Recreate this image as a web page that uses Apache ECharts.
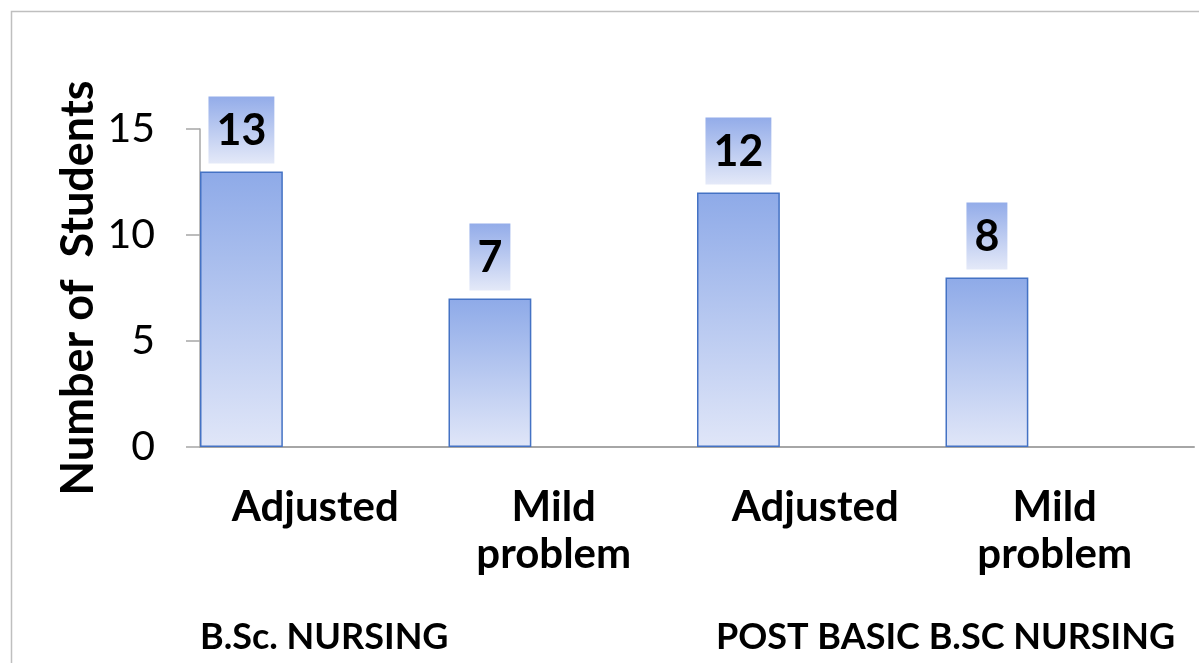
<!DOCTYPE html>
<html>
<head>
<meta charset="utf-8">
<script src="https://cdn.jsdelivr.net/npm/echarts@6/dist/echarts.min.js"></script>
<style>
html,body{margin:0;padding:0;background:#fff;}
#chart{width:1199px;height:663px;}
</style>
</head>
<body>
<div id="chart"></div>
<script>
var categories = ['Adjusted', 'Mild\nproblem', 'Adjusted', 'Mild\nproblem'];
var groups = ['B.Sc. NURSING', 'POST BASIC B.SC NURSING'];
var students = [13, 7, 12, 8];
var emptySeries = [null, null, null, null];
var yTicks = { min: 0, max: 15, interval: 5 };
var yTitle = 'Number of  Students';

var chart = echarts.init(document.getElementById('chart'));
var FONT = 'Lato';

function grad(top, bottom) {
  return new echarts.graphic.LinearGradient(0, 0, 0, 1, [
    { offset: 0, color: top },
    { offset: 1, color: bottom }
  ]);
}

var labelShift = [18, 38, 12, 30];

var option = {
  animation: false,
  backgroundColor: '#fff',
  graphic: [{
    type: 'rect',
    shape: { x: 11.5, y: 11.5, width: 1400, height: 900 },
    style: { fill: 'none', stroke: '#bfbfbf', lineWidth: 1.5 },
    silent: true
  }],
  grid: { left: 200, right: 5, top: 129, bottom: 216 },
  xAxis: [{
    type: 'category',
    data: categories.map(function (c, i) {
      return { value: c, textStyle: { padding: [0, labelShift[i], 0, 0] } };
    }),
    position: 'bottom',
    axisLine: { show: true, lineStyle: { color: '#a6a6a6', width: 2 } },
    axisTick: { show: false },
    axisLabel: {
      interval: 0,
      margin: 37,
      fontFamily: FONT,
      fontWeight: 'bold',
      fontSize: 42,
      lineHeight: 47,
      color: '#000'
    }
  }, {
    type: 'category',
    data: [
      { value: groups[0], textStyle: { align: 'right', padding: [0, 0, 0, 8] } },
      { value: groups[1] }
    ],
    position: 'bottom',
    axisLine: { show: false },
    axisTick: { show: false },
    axisLabel: {
      interval: 0,
      margin: 172,
      fontFamily: FONT,
      fontWeight: 'bold',
      fontSize: 36,
      color: '#000'
    }
  }],
  yAxis: {
    type: 'value',
    min: yTicks.min,
    max: yTicks.max,
    interval: yTicks.interval,
    name: yTitle,
    nameLocation: 'middle',
    nameGap: 107,
    nameMoveOverlap: false,
    nameTextStyle: {
      fontFamily: FONT,
      fontWeight: 'bold',
      fontSize: 45,
      color: '#000',
      padding: [0, 0, -8, 0]
    },
    axisLine: { show: true, lineStyle: { color: '#a6a6a6', width: 1.5 } },
    axisTick: { show: true, length: 14, lineStyle: { color: '#a6a6a6', width: 1.5 } },
    splitLine: { show: false },
    axisLabel: {
      margin: 45,
      fontFamily: FONT,
      fontSize: 41,
      color: '#000'
    }
  },
  series: [{
    type: 'bar',
    xAxisIndex: 0,
    data: students,
    barGap: '0%',
    barCategoryGap: '0%',
    itemStyle: {
      color: grad('#8eaae8', '#e0e6f8'),
      borderColor: '#4472c4',
      borderWidth: 1.5
    },
    label: {
      show: true,
      position: 'top',
      distance: 8,
      fontFamily: FONT,
      fontWeight: 'bold',
      fontSize: 43,
      lineHeight: 42,
      color: '#000',
      padding: [14, 8, 11, 8],
      backgroundColor: grad('#93ace9', '#e4e9f8')
    }
  }, {
    type: 'bar',
    xAxisIndex: 0,
    data: emptySeries,
    barGap: '0%',
    barCategoryGap: '0%'
  }, {
    type: 'bar',
    xAxisIndex: 0,
    data: emptySeries,
    barGap: '0%',
    barCategoryGap: '0%'
  }]
};
chart.setOption(option);
</script>
</body>
</html>
